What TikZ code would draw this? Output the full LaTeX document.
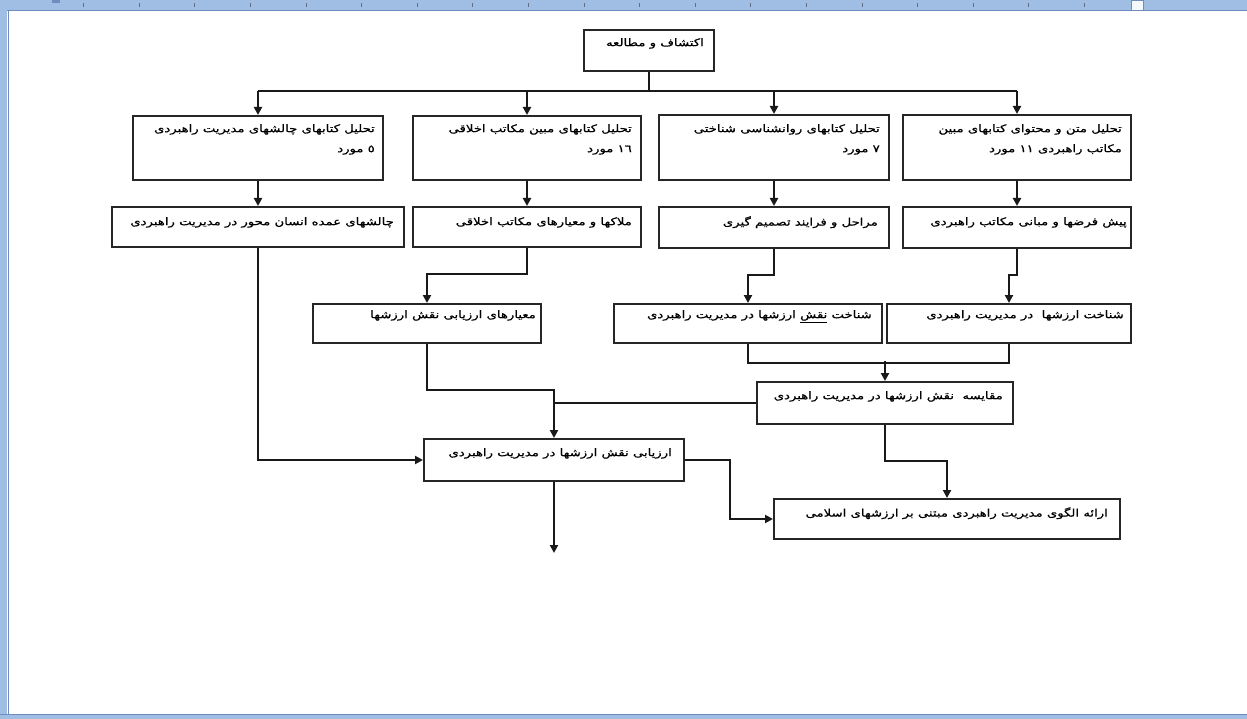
\documentclass[tikz,border=0pt]{standalone}
\usepackage{fontspec}
\usetikzlibrary{arrows.meta}
\TeXXeTstate=1
\newfontfamily\arabicfont[Script=Arabic,FakeStretch=1.26,FakeBold=0.7]{DejaVu Sans}
\definecolor{rulerblue}{RGB}{160,189,228}
\definecolor{rulerdark}{RGB}{110,140,190}
\definecolor{tickgray}{RGB}{100,110,130}
\tikzset{
  box/.style={draw=black!85, line width=2pt, inner sep=0pt, anchor=north west},
  txt/.style={inner sep=0pt, anchor=north east, align=right, font=\arabicfont\fontsize{10.5}{20}\selectfont},
  conn/.style={line width=2pt, black!90},
  arr/.style={conn, -{Triangle[length=8pt,width=8pt]}},
}
\begin{document}
\begin{tikzpicture}[x=1pt,y=-1pt]
\useasboundingbox (0,0) rectangle (1247,719);
\fill[white] (0,0) rectangle (1247,719);
% window chrome
\fill[rulerblue] (0,0) rectangle (1247,10);
\draw[rulerdark, line width=0.8pt] (0,10) -- (1247,10);
\foreach \k in {0,...,18} {\draw[tickgray, line width=0.7pt] ({83.5+55.6*\k},3) -- ({83.5+55.6*\k},7);}
\fill[rulerdark] (52,0) rectangle (60,3);
\filldraw[fill=white!90!rulerblue, draw=rulerdark, line width=0.7pt] (1131,0) rectangle (1143,10);
\fill[rulerblue] (0,0) rectangle (7,719);
\draw[rulerdark, line width=0.8pt] (8,10) -- (8,719);
\fill[rulerblue] (0,715) rectangle (1247,719);
\draw[rulerdark, line width=0.8pt] (0,714.5) -- (1247,714.5);
% boxes
\node[box, minimum width=130pt, minimum height=41pt] (t) at (583,29) {};
\node[box, minimum width=250pt, minimum height=64pt] (a1) at (132,115) {};
\node[box, minimum width=228pt, minimum height=64pt] (a2) at (412,115) {};
\node[box, minimum width=230pt, minimum height=65pt] (a3) at (658,114) {};
\node[box, minimum width=228pt, minimum height=65pt] (a4) at (902,114) {};
\node[box, minimum width=292pt, minimum height=40pt] (b1) at (111,206) {};
\node[box, minimum width=228pt, minimum height=40pt] (b2) at (412,206) {};
\node[box, minimum width=230pt, minimum height=41pt] (b3) at (658,206) {};
\node[box, minimum width=228pt, minimum height=41pt] (b4) at (902,206) {};
\node[box, minimum width=228pt, minimum height=39pt] (c2) at (312,303) {};
\node[box, minimum width=268pt, minimum height=39pt] (c3) at (613,303) {};
\node[box, minimum width=244pt, minimum height=39pt] (c4) at (886,303) {};
\node[box, minimum width=256pt, minimum height=42pt] (d) at (756,381) {};
\node[box, minimum width=260pt, minimum height=42pt] (e) at (423,438) {};
\node[box, minimum width=346pt, minimum height=40pt] (f) at (773,498) {};
% texts
\node[txt] (tt) at ([xshift=-11pt,yshift=-9pt]t.north east) {\beginR اکتشاف و مطالعه\endR};
\node[txt] (a1t) at ([xshift=-9pt,yshift=-9pt]a1.north east) {\beginR تحلیل کتابهای چالشهای مدیریت راهبردی\endR\\\beginR ٥ مورد\endR};
\node[txt] (a2t) at ([xshift=-10pt,yshift=-9pt]a2.north east) {\beginR تحلیل کتابهای مبین مکاتب اخلاقی\endR\\\beginR ١٦ مورد\endR};
\node[txt] (a3t) at ([xshift=-10pt,yshift=-10pt]a3.north east) {\beginR تحلیل کتابهای روانشناسی شناختی\endR\\\beginR ٧ مورد\endR};
\node[txt] (a4t) at ([xshift=-10pt,yshift=-10pt]a4.north east) {\beginR تحلیل متن و محتوای کتابهای مبین\endR\\\beginR مکاتب راهبردی ١١ مورد\endR};
\node[txt] (b1t) at ([xshift=-11pt,yshift=-11pt]b1.north east) {\beginR چالشهای عمده انسان محور در مدیریت راهبردی\endR};
\node[txt] (b2t) at ([xshift=-10pt,yshift=-11pt]b2.north east) {\beginR ملاکها و معیارهای مکاتب اخلاقی\endR};
\node[txt] (b3t) at ([xshift=-12pt,yshift=-10pt]b3.north east) {\beginR مراحل و فرایند تصمیم گیری\endR};
\node[txt] (b4t) at ([xshift=-5pt,yshift=-11pt]b4.north east) {\beginR پیش فرضها و مبانی مکاتب راهبردی\endR};
\node[txt] (c2t) at ([xshift=-6pt,yshift=-7pt]c2.north east) {\beginR معیارهای ارزیابی نقش ارزشها\endR};
\node[txt] (c3t) at ([xshift=-11pt,yshift=-7pt]c3.north east) {\beginR شناخت \underline{نقش} ارزشها در مدیریت راهبردی\endR};
\node[txt] (c4t) at ([xshift=-8pt,yshift=-7pt]c4.north east) {\beginR شناخت ارزشها\ \ در مدیریت راهبردی\endR};
\node[txt] (dt) at ([xshift=-11pt,yshift=-10pt]d.north east) {\beginR مقایسه\ \ نقش ارزشها در مدیریت راهبردی\endR};
\node[txt] (et) at ([xshift=-13pt,yshift=-10pt]e.north east) {\beginR ارزیابی نقش ارزشها در مدیریت راهبردی\endR};
\node[txt] (ft) at ([xshift=-13pt,yshift=-9pt]f.north east) {\beginR ارائه الگوی مدیریت راهبردی مبتنی بر ارزشهای اسلامی\endR};
% connectors
\coordinate (bus) at (648,91);
\coordinate (out) at (553,553);
\draw[conn] (t.south) -- (t.south |- bus);
\draw[conn] (a1.north |- bus) -- (a4.north |- bus);
\foreach \n in {a1,a2,a3,a4} {\draw[arr] (\n.north |- bus) -- (\n.north);}
\foreach \a/\b in {a1/b1,a2/b2,a3/b3,a4/b4} {\draw[arr] (\a.south) -- (\a.south |- \b.north);}
\draw[arr] (b2.south) -- ++(0,26) -| (c2.north);
\draw[arr] (b3.south) -- ++(0,26) -| (c3.north);
\draw[arr] (b4.south) -- ++(0,26) -| (c4.north);
\draw[conn] (c3.south) -- ++(0,19) -| (c4.south);
\draw[arr] (d.north |- 0,361) -- (d.north);
\draw[arr] (c2.south) -- ++(0,46) -| (e.north);
\draw[conn] (d.west) -- (e.north |- d.west);
\draw[arr] (b1.south) |- (e.west);
\draw[arr] (e.east) -- ++(45,0) |- (f.west);
\draw[arr] (d.south) -- ++(0,36) -| (f.north);
\draw[arr] (e.south) -- (e.south |- out);
\end{tikzpicture}
\end{document}
